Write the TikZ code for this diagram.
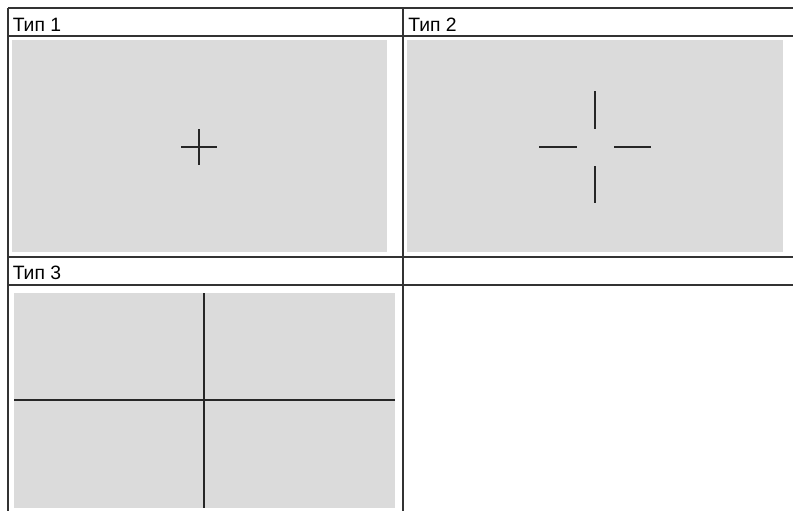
\documentclass[tikz,border=0pt]{standalone}
\usepackage{fontspec}
\setmainfont{Liberation Sans}

\begin{document}
\begin{tikzpicture}[
  x=0.75pt, y=-0.75pt,
  grid/.style  = {draw=black!80, line width=1.5pt},
  panel/.style = {fill=black!14, draw=none},
  hair/.style  = {draw=black!85, line width=0.8pt},
  head/.style  = {anchor=base west, inner sep=0pt, font=\fontsize{14.5}{16}\selectfont}
]
\useasboundingbox (0,0) rectangle (793,511);

%%% ---- PANELS ----
\fill[panel] (12,40)  rectangle (387,252);
\fill[panel] (407,40) rectangle (783,252);
\fill[panel] (14,293) rectangle (395,508);

%%% ---- TABLE RULES ----
\draw[grid] (8,8)   -- (793,8);
\draw[grid] (8,36)  -- (793,36);
\draw[grid] (8,257) -- (793,257);
\draw[grid] (8,285) -- (793,285);
\draw[grid] (8,8)   -- (8,511);
\draw[grid] (403,8) -- (403,511);

%%% ---- HEADERS ----
\node[head] (t1) at (12.5,31.5)  {Тип 1};
\node[head] (t2) at (408,31.5) {Тип 2};
\node[head] (t3) at (12.5,279.5) {Тип 3};

%%% ---- TYPE 1 ----
\coordinate (c1) at (199,147);
\draw[hair] ([xshift=-18*0.75pt]c1) -- ([xshift=18*0.75pt]c1);
\draw[hair] ([yshift=18*0.75pt]c1) -- ([yshift=-18*0.75pt]c1);

%%% ---- TYPE 2 ----
\coordinate (c2) at (595,147);
\draw[hair] (539,147) -- (577,147);
\draw[hair] (614,147) -- (651,147);
\draw[hair] (595,91)  -- (595,129);
\draw[hair] (595,166) -- (595,203);

%%% ---- TYPE 3 ----
\draw[hair] (204,293) -- (204,508);
\draw[hair] (14,400)  -- (395,400);
\end{tikzpicture}
\end{document}
